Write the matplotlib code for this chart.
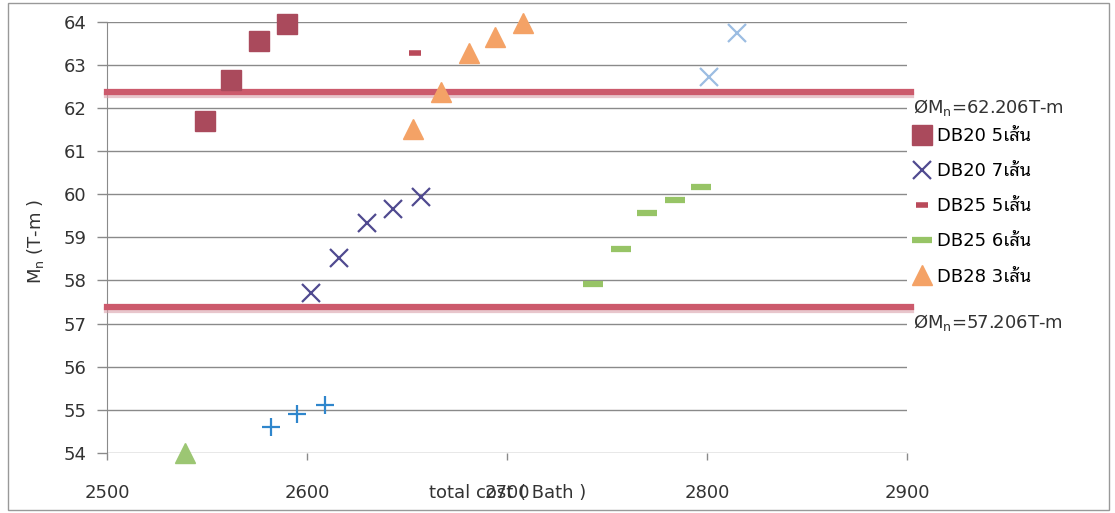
import matplotlib
matplotlib.use("Agg")
import matplotlib.pyplot as plt
import matplotlib.patheffects as pe
from matplotlib.patches import Rectangle

# DejaVu for latin text, looped Thai font for "เส้น"
plt.rcParams['font.family'] = ['DejaVu Sans', 'Noto Sans Thai Looped']

# data
db20_5_cost = [2549, 2562, 2576, 2590]
db20_5_mn = [61.70, 62.65, 63.55, 63.95]

db20_7_cost = [2602, 2616, 2630, 2643, 2657]
db20_7_mn = [57.71, 58.52, 59.33, 59.66, 59.93]

extra_x_cost = [2801, 2815]
extra_x_mn = [62.72, 63.74]

db25_5_cost = [2654]
db25_5_mn = [63.27]

db25_6_cost = [2743, 2757, 2770, 2784, 2797]
db25_6_mn = [57.92, 58.73, 59.57, 59.87, 60.17]

db28_3_cost = [2653, 2667, 2681, 2694, 2708]
db28_3_mn = [61.51, 62.37, 63.27, 63.65, 63.97]

green_tri_cost = [2539]
green_tri_mn = [54.0]

plus_cost = [2582, 2595, 2609]
plus_mn = [54.60, 54.90, 55.11]

limit_cost = [2500, 2902]
limit_hi = 62.38
limit_lo = 57.39
limit_hi_label = r'ØM$_\mathregular{n}$=62.206T-m'
limit_lo_label = r'ØM$_\mathregular{n}$=57.206T-m'

fig = plt.figure(figsize=(11.15, 5.13), dpi=100)
ax = fig.add_axes([0.0962, 0.117, 0.7175, 0.8407])

# the two capacity lines, with a soft shadow like the excel chart
shadow = [pe.SimpleLineShadow(offset=(0, -2.5), shadow_color='#d9a0aa', alpha=0.6), pe.Normal()]
ax.plot(limit_cost, [limit_hi] * 2, color='#cc5a6c', lw=4.5, path_effects=shadow, clip_on=False, zorder=3)
ax.plot(limit_cost, [limit_lo] * 2, color='#cc5a6c', lw=4.5, path_effects=shadow, clip_on=False, zorder=3)

kw = dict(ls='none', clip_on=False, zorder=4)
ax.plot(db20_5_cost, db20_5_mn, marker='s', ms=14, color='#aa4a5c', label='DB20 5เส้น', **kw)
ax.plot(db20_7_cost, db20_7_mn, marker='x', ms=13, mew=1.6, color='#504a90', label='DB20 7เส้น', **kw)
ax.plot(db25_5_cost, db25_5_mn, marker='_', ms=8, mew=4, color='#b94a5a', label='DB25 5เส้น', **kw)
ax.plot(db25_6_cost, db25_6_mn, marker='_', ms=14, mew=4.5, color='#97c466', label='DB25 6เส้น', **kw)
ax.plot(db28_3_cost, db28_3_mn, marker='^', ms=14.5, color='#f4a266', label='DB28 3เส้น', **kw)
ax.plot(extra_x_cost, extra_x_mn, marker='x', ms=13, mew=1.6, color='#9cbde2', **kw)
ax.plot(green_tri_cost, green_tri_mn, marker='^', ms=14.5, color='#9cc673', **kw)
ax.plot(plus_cost, plus_mn, marker='+', ms=13, mew=1.6, color='#2f86cc', **kw)

for y, lab in [(limit_hi, limit_hi_label), (limit_lo, limit_lo_label)]:
    ax.annotate(lab, xy=(1, y), xycoords=('axes fraction', 'data'),
                xytext=(4, -4), textcoords='offset points', va='top', ha='left',
                fontsize=13, color='#333333')

ax.set_xlim(2500, 2900)
ax.set_ylim(54, 64)
ax.set_xticks([2500, 2600, 2700, 2800, 2900])
ax.set_yticks(range(54, 65))
ax.grid(axis='y', color='#8a8a8a', lw=1)
ax.set_axisbelow(True)
for s in ['top', 'right', 'bottom']:
    ax.spines[s].set_visible(False)
ax.spines['left'].set_color('#8a8a8a')
ax.tick_params(axis='y', length=7, width=1, color='#8a8a8a', pad=8, labelsize=13, labelcolor='#333333')
ax.tick_params(axis='x', length=5, width=1, color='#8a8a8a', pad=17, labelsize=13, labelcolor='#333333')

# x label sits on the tick label row, as in the original
ax.set_xlabel('total cost ( Bath )', fontsize=13, color='#333333', va='center')
ax.xaxis.set_label_coords(0.5, -0.093)
ax.set_ylabel(r'M$_\mathregular{n}$ (T-m )', fontsize=13, color='#333333')
ax.yaxis.set_label_coords(-0.077, 0.49)

ax.legend(loc='upper left', bbox_to_anchor=(0.811, 0.77), bbox_transform=fig.transFigure,
          frameon=False, fontsize=13, handlelength=1.0, handletextpad=0.3,
          labelspacing=0.95, borderpad=0, numpoints=1)

fig.patches.append(Rectangle((0.007, 0.006), 0.988, 0.988, transform=fig.transFigure,
                             fill=False, edgecolor='#999999', lw=1))

fig.savefig('out.png', dpi=100)
